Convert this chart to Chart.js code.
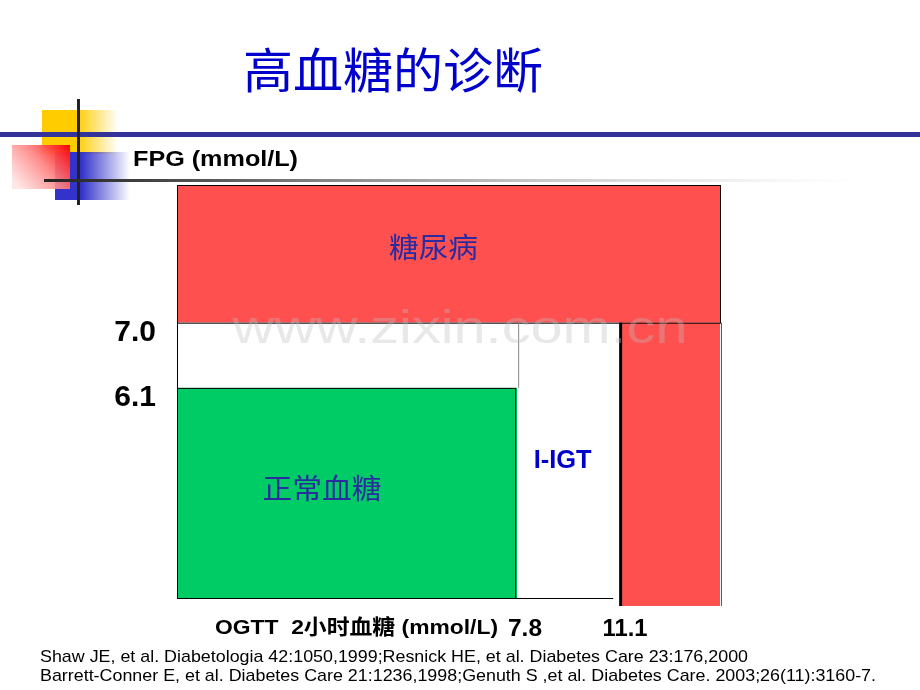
<!DOCTYPE html>
<html>
<head>
<meta charset="utf-8">
<script src="https://cdn.jsdelivr.net/npm/chart.js@4"></script>
<style>
  body { margin: 0; background: #fff; }
  #wrap { position: relative; width: 920px; height: 690px; }
</style>
</head>
<body>
<div id="wrap"><canvas id="chart" width="920" height="690"></canvas></div>
<script>
// thresholds
const fpgTicks = [6.1, 7.0];        // FPG (mmol/L)
const ogttTicks = [7.8, 11.1];      // OGTT 2h (mmol/L)
const fpgTickLabels = ['6.1', '7.0'];
const ogttTickLabels = ['7.8', '11.1'];

// regions: [xFrom, xTo, yFrom, yTo], null = edge of the axis
const regionNames = ['糖尿病', '', 'IFG', '正常血糖', 'I-IGT'];
const regionX = [[null, null], [11.1, null], [null, 7.8], [null, 7.8], [7.8, 11.1]];
const regionY = [[7.0, null], [null, 7.0], [6.1, 7.0], [null, 6.1], [null, 7.0]];
const regionColors = ['#ff5050', '#ff5050', '#ffffff', '#00cc66', '#ffffff'];

const citations = [
  'Shaw JE, et al. Diabetologia 42:1050,1999;Resnick HE, et al. Diabetes Care 23:176,2000',
  'Barrett-Conner E, et al. Diabetes Care 21:1236,1998;Genuth S ,et al. Diabetes Care. 2003;26(11):3160-7.'
];

function fitText(ctx, text, x, y, font, color, align, width) {
  ctx.save();
  ctx.font = font;
  ctx.fillStyle = color;
  ctx.textBaseline = 'middle';
  const w = ctx.measureText(text).width;
  const s = width ? width / w : 1;
  let left = x;
  if (align === 'center') left = x - w * s / 2;
  else if (align === 'right') left = x - w * s;
  ctx.translate(left, y);
  ctx.scale(s, 1);
  ctx.textAlign = 'left';
  ctx.fillText(text, 0, 0);
  ctx.restore();
}

const slidePlugin = {
  id: 'slide',
  beforeDraw(chart) {
    const ctx = chart.ctx;
    ctx.save();
    ctx.fillStyle = '#fff';
    ctx.fillRect(0, 0, chart.width, chart.height);

    // corner decoration
    let g = ctx.createLinearGradient(42, 0, 118, 0);
    g.addColorStop(0, '#ffcc00'); g.addColorStop(0.45, '#ffcc00'); g.addColorStop(1, 'rgba(255,204,0,0)');
    ctx.fillStyle = g; ctx.fillRect(42, 110, 76, 44);
    g = ctx.createLinearGradient(55, 0, 130, 0);
    g.addColorStop(0, '#3333cc'); g.addColorStop(0.35, '#3333cc'); g.addColorStop(1, 'rgba(51,51,204,0)');
    ctx.fillStyle = g; ctx.fillRect(55, 152, 75, 48);
    g = ctx.createLinearGradient(70, 145, 20, 189);
    g.addColorStop(0, '#ff0000'); g.addColorStop(0.5, 'rgba(255,130,130,0.9)'); g.addColorStop(1, 'rgba(255,225,225,0.8)');
    ctx.fillStyle = g; ctx.fillRect(12, 145, 58, 44);
    ctx.fillStyle = '#333399'; ctx.fillRect(0, 132, 920, 5);
    ctx.fillStyle = '#222'; ctx.fillRect(77, 99, 3, 106);
    g = ctx.createLinearGradient(44, 0, 860, 0);
    g.addColorStop(0, '#222'); g.addColorStop(0.2, '#555'); g.addColorStop(1, 'rgba(200,200,200,0)');
    ctx.fillStyle = g; ctx.fillRect(44, 179, 816, 3);
    ctx.restore();
  },
  afterDatasetsDraw(chart) {
    const ctx = chart.ctx;
    const xs = chart.scales.x, ys = chart.scales.y;
    const px = v => v === null ? null : xs.getPixelForValue(v);
    const py = v => v === null ? null : ys.getPixelForValue(v);
    const a = chart.chartArea;
    ctx.save();
    regionX.forEach((rx, i) => {
      const x0 = rx[0] === null ? a.left : px(rx[0]);
      const x1 = rx[1] === null ? a.right : px(rx[1]);
      const y1 = regionY[i][1] === null ? a.top : py(regionY[i][1]);
      let y0 = regionY[i][0] === null ? a.bottom : py(regionY[i][0]);
      if (i === 1) y0 = a.bottom + 8;
      ctx.fillStyle = regionColors[i];
      ctx.fillRect(x0, y1, x1 - x0, y0 - y1);
    });
    ctx.lineWidth = 1;
    ctx.strokeStyle = '#000';
    const xL = a.left, xR = a.right;
    const x78 = px(ogttTicks[0]), x111 = px(ogttTicks[1]);
    const y61 = py(fpgTicks[0]), y70 = py(fpgTicks[1]);
    // diabetes band outline
    ctx.strokeRect(xL + 0.5, a.top + 0.5, xR - xL, y70 - a.top);
    // normal outline
    ctx.strokeRect(xL + 0.5, y61 + 0.5, x78 - 2 - xL, a.bottom - y61);
    ctx.beginPath();
    ctx.moveTo(xL + 0.5, y70); ctx.lineTo(xL + 0.5, a.bottom);
    ctx.moveTo(xL, a.bottom + 0.5); ctx.lineTo(x111 - 7, a.bottom + 0.5);
    ctx.stroke();
    ctx.strokeStyle = '#888';
    ctx.beginPath();
    ctx.moveTo(x78 + 1.5, y70); ctx.lineTo(x78 + 1.5, y61);
    ctx.stroke();
    // heavy line at 11.1
    ctx.fillStyle = '#000';
    ctx.fillRect(x111 - 1, y70, 3, a.bottom + 8 - y70);
    ctx.strokeStyle = '#c03030';
    ctx.beginPath();
    ctx.moveTo(xR + 1.5, y70); ctx.lineTo(xR + 1.5, a.bottom + 8);
    ctx.stroke();
    ctx.restore();

    // region labels
    const cjk = '"Noto Sans CJK SC", sans-serif';
    fitText(ctx, regionNames[0], (xL + xR) / 2 - 15, (a.top + y70) / 2 - 6, '28px ' + cjk, '#2b2ba0', 'center', 89);
    fitText(ctx, regionNames[3], (xL + x78) / 2 - 25, 488, '28px ' + cjk, '#2b2ba0', 'center', 119);
    fitText(ctx, regionNames[4], (x78 + x111) / 2 - 6, 461, 'bold 25px "Liberation Sans"', '#0000cc', 'center', 58);

    // tick labels
    fpgTicks.forEach((v, i) => {
      fitText(ctx, fpgTickLabels[i], 156, py(v) + 10, 'bold 30px "Liberation Sans"', '#000', 'right');
    });
    fitText(ctx, ogttTickLabels[0], 525, 629, 'bold 24px "Liberation Sans"', '#000', 'center', 34);
    fitText(ctx, ogttTickLabels[1], 625, 629, 'bold 24px "Liberation Sans"', '#000', 'center', 45);
  },
  afterDraw(chart) {
    const ctx = chart.ctx;
    fitText(ctx, '高血糖的诊断', 393, 70, '48px "Noto Sans CJK SC"', '#0000cc', 'center', 300);
    fitText(ctx, 'FPG (mmol/L)', 133, 160, 'bold 22px "Liberation Sans"', '#000', 'left', 165);
    fitText(ctx, 'OGTT  2小时血糖 (mmol/L)', 215, 628, 'bold 21px "Liberation Sans", "Noto Sans CJK SC"', '#000', 'left', 283);
    fitText(ctx, citations[0], 40, 657, '17px "Liberation Sans Narrow", "Liberation Sans"', '#000', 'left', 708);
    fitText(ctx, citations[1], 40, 676, '17px "Liberation Sans Narrow", "Liberation Sans"', '#000', 'left', 836);
    fitText(ctx, 'www.zixin.com.cn', 460, 330, '46px "Liberation Sans"', 'rgba(190,190,190,0.35)', 'center', 455);
  }
};

new Chart(document.getElementById('chart'), {
  type: 'scatter',
  data: { datasets: [] },
  options: {
    responsive: false,
    animation: false,
    layout: { padding: { left: 177, right: 200, top: 185, bottom: 92 } },
    plugins: { legend: { display: false }, tooltip: { enabled: false } },
    scales: {
      x: { type: 'linear', display: false, min: -3.1, max: 14.3 },
      y: { type: 'linear', display: false, min: 3.2, max: 8.9 }
    }
  },
  plugins: [slidePlugin]
});
</script>
</body>
</html>
